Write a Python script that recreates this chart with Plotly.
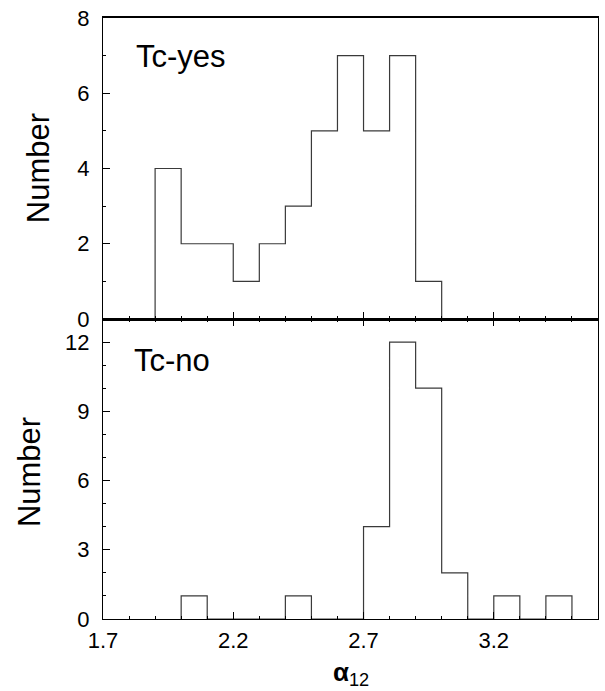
import plotly.graph_objects as go

# ---- data ----
bin_width = 0.1
yes_left_edges = [1.9, 2.0, 2.1, 2.2, 2.3, 2.4, 2.5, 2.6, 2.7, 2.8, 2.9]
yes_counts = [4, 2, 2, 1, 2, 3, 5, 7, 5, 7, 1]
no_left_edges = [2.0, 2.1, 2.2, 2.3, 2.4, 2.5, 2.6, 2.7, 2.8, 2.9, 3.0, 3.1, 3.2, 3.3, 3.4]
no_counts = [1, 0, 0, 0, 1, 0, 0, 4, 12, 10, 2, 0, 1, 0, 1]
x_tick_vals = [1.7, 2.2, 2.7, 3.2]
x_tick_text = ["1.7", "2.2", "2.7", "3.2"]
yes_y_ticks = [0, 2, 4, 6, 8]
no_y_ticks = [0, 3, 6, 9, 12]


def step_xy(left_edges, counts, width):
    xs = [left_edges[0]] + list(left_edges) + [left_edges[-1] + width]
    ys = [0] + list(counts) + [0]
    return xs, ys


W, H = 605, 691
ML, MR, MT, MB = 103, 6, 10, 72
PW, PH = W - ML - MR, H - MT - MB
split = (619 - 315) / PH

FONT = "Liberation Sans, Arial, Helvetica, sans-serif"

fig = go.Figure()
xs, ys = step_xy(yes_left_edges, yes_counts, bin_width)
fig.add_trace(go.Scatter(x=xs, y=ys, mode="lines", line=dict(shape="hv", color="#3a3a3a", width=1.2),
                         xaxis="x", yaxis="y", showlegend=False, hoverinfo="skip"))
xs, ys = step_xy(no_left_edges, no_counts, bin_width)
fig.add_trace(go.Scatter(x=xs, y=ys, mode="lines", line=dict(shape="hv", color="#3a3a3a", width=1.2),
                         xaxis="x2", yaxis="y2", showlegend=False, hoverinfo="skip"))

tickfont = dict(family=FONT, size=22, color="black")
xcommon = dict(range=[1.7, 3.6], tickvals=x_tick_vals, ticktext=x_tick_text, ticks="inside", ticklen=7,
               tickcolor="black", tickwidth=1, showline=True, linecolor="black", showgrid=False, zeroline=False,
               minor=dict(tick0=1.7, dtick=0.1, ticks="inside", ticklen=3, tickcolor="black", tickwidth=1,
                          showgrid=False),
               domain=[0, 1], tickfont=tickfont, ticklabeloverflow="allow")
ycommon = dict(ticks="inside", ticklen=7, tickcolor="black", tickwidth=1, showline=True, linecolor="black",
               linewidth=1, showgrid=False, zeroline=False, mirror=True, tickfont=tickfont,
               ticklabelstandoff=8, ticklabeloverflow="allow")

fig.update_layout(
    width=W, height=H,
    margin=dict(l=ML, r=MR, t=MT, b=MB),
    paper_bgcolor="white", plot_bgcolor="white",
    font=dict(family=FONT, color="black"),
    xaxis=dict(anchor="y", showticklabels=False, mirror=True, linewidth=1.5, **xcommon),
    xaxis2=dict(anchor="y2", showticklabels=True, mirror="ticks", linewidth=1, ticklabelstandoff=2, **xcommon),
    yaxis=dict(anchor="x", domain=[split, 1], range=[0, 8], tickvals=yes_y_ticks,
               minor=dict(dtick=1, ticks="inside", ticklen=3, tickcolor="black", showgrid=False), **ycommon),
    yaxis2=dict(anchor="x2", domain=[0, split], range=[0, 13], tickvals=no_y_ticks,
                minor=dict(dtick=1, ticks="inside", ticklen=3, tickcolor="black", showgrid=False), **ycommon),
)


def px_x(p):
    return (p - ML) / PW


def px_y(p):
    return 1 - (p - MT) / PH


annos = [
    dict(text="Tc-yes", x=px_x(134), y=px_y(49), xanchor="left", yanchor="middle", font=dict(size=31)),
    dict(text="Tc-no", x=px_x(132), y=px_y(357), xanchor="left", yanchor="middle", font=dict(size=31)),
    dict(text="Number", x=px_x(38), y=px_y(162), textangle=-90, xanchor="center", yanchor="middle",
         font=dict(size=31)),
    dict(text="Number", x=px_x(30), y=px_y(470), textangle=-90, xanchor="center", yanchor="middle",
         font=dict(size=31)),
    dict(text="<b>α</b><sub>12</sub>", x=px_x(352), y=px_y(674), xanchor="center", yanchor="middle",
         font=dict(size=26)),
]
for a in annos:
    a.update(xref="paper", yref="paper", showarrow=False)
    a["font"].update(family=FONT, color="black")
fig.update_layout(annotations=annos)

fig.write_html("out.html", config={"displayModeBar": False},
               post_script="document.body.style.margin='0';document.body.style.overflow='hidden';")
